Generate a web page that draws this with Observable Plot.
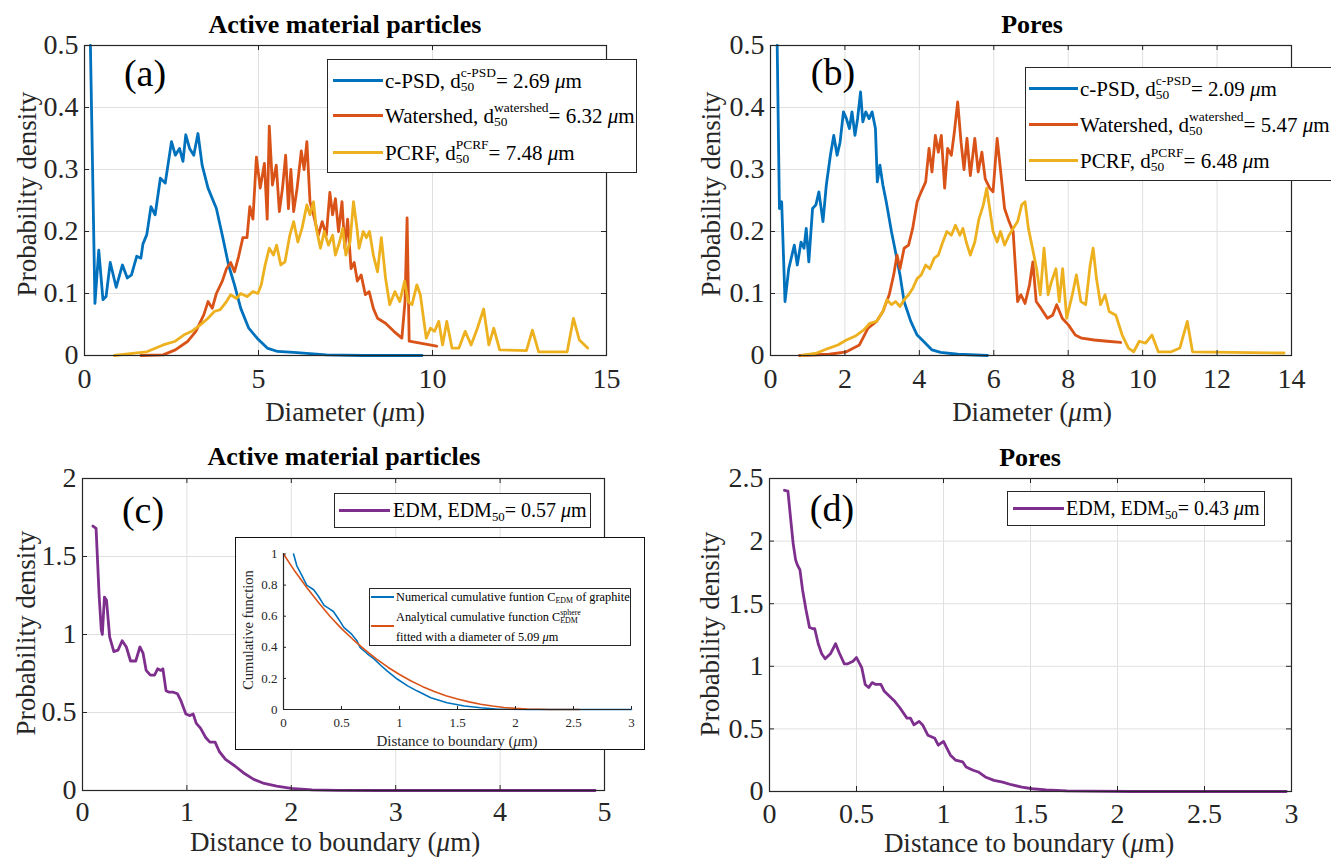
<!DOCTYPE html>
<html>
<head>
<meta charset="utf-8">
<script src="https://cdn.jsdelivr.net/npm/d3@7"></script>
<script src="https://cdn.jsdelivr.net/npm/@observablehq/plot@0.6"></script>
<style>
  body { margin: 0; background: #fff; }
  #fig { position: relative; width: 1331px; height: 859px; overflow: hidden;
         font-family: "Liberation Serif", "Times New Roman", Times, "Nimbus Roman", "DejaVu Serif", serif; color: #000; }
  #fig svg { position: absolute; overflow: visible; }
  .abs { position: absolute; white-space: nowrap; line-height: 1; }
  .legend { position: absolute; box-sizing: border-box; border: 1.3px solid #262626; background: #fff; }
  .ss { display: inline-block; vertical-align: -0.26em; font-size: 0.64em; line-height: 1.02; text-align: left; }
  .ss span { display: block; }
  .sb { font-size: 0.64em; position: relative; top: 0.3em; }
</style>
</head>
<body>
<div id="fig"></div>
<script>
// ---- text ----
const titles = ["Active material particles", "Pores", "Active material particles", "Pores"];
const letters = ["(a)", "(b)", "(c)", "(d)"];
const xLabels = ["Diameter (<i>μ</i>m)", "Diameter (<i>μ</i>m)", "Distance to boundary (<i>μ</i>m)", "Distance to boundary (<i>μ</i>m)"];
const yLabel = "Probability density";
const methodNames = ["c-PSD", "Watershed", "PCRF"];
const methodSups = ["c-PSD", "watershed", "PCRF"];
const d50Active = ["2.69", "6.32", "7.48"];
const d50Pores = ["2.09", "5.47", "6.48"];
const edm50 = ["0.57", "0.43"];
const insetLabels = ["Numerical cumulative funtion C", "Analytical cumulative function C", "fitted with a diameter of 5.09"];

// ---- ticks ----
const aTicksX = [0, 5, 10, 15];
const bTicksX = [0, 2, 4, 6, 8, 10, 12, 14];
const abTicksY = [0, 0.1, 0.2, 0.3, 0.4, 0.5];
const cTicksX = [0, 1, 2, 3, 4, 5];
const cTicksY = [0, 0.5, 1, 1.5, 2];
const dTicksX = [0, 0.5, 1, 1.5, 2, 2.5, 3];
const dTicksY = [0, 0.5, 1, 1.5, 2, 2.5];
const insetTicksX = [0, 0.5, 1, 1.5, 2, 2.5, 3];
const insetTicksY = [0, 0.2, 0.4, 0.6, 0.8, 1];

// ---- (a) active material particles: diameter [µm], probability density ----
const aCpsd = [[0.17,0.5],[0.30,0.084],[0.41,0.17],[0.53,0.09],[0.62,0.095],[0.74,0.15],[0.91,0.11],[1.09,0.146],[1.23,0.125],[1.35,0.13],[1.50,0.16],[1.62,0.157],[1.68,0.18],[1.79,0.195],[1.91,0.24],[2.03,0.227],[2.18,0.286],[2.32,0.278],[2.50,0.345],[2.61,0.323],[2.73,0.334],[2.83,0.313],[2.91,0.356],[3.02,0.334],[3.14,0.323],[3.26,0.358],[3.38,0.307],[3.55,0.27],[3.79,0.237],[3.96,0.194],[4.14,0.146],[4.31,0.114],[4.49,0.076],[4.72,0.044],[4.96,0.028],[5.25,0.012],[5.55,0.0065],[6.01,0.005],[6.95,0.001],[8.0,0],[9.7,0]];
const aWatershed = [[1.62,0],[2.26,0.001],[2.61,0.009],[2.97,0.023],[3.2,0.039],[3.43,0.066],[3.55,0.087],[3.67,0.076],[3.79,0.10],[3.96,0.12],[4.08,0.14],[4.20,0.15],[4.31,0.135],[4.43,0.16],[4.55,0.19],[4.67,0.19],[4.75,0.24],[4.84,0.22],[4.94,0.32],[5.05,0.27],[5.17,0.31],[5.25,0.22],[5.31,0.37],[5.40,0.275],[5.51,0.307],[5.60,0.232],[5.69,0.27],[5.78,0.323],[5.86,0.237],[5.93,0.30],[6.01,0.232],[6.11,0.27],[6.23,0.33],[6.31,0.30],[6.39,0.345],[6.48,0.248],[6.58,0.227],[6.72,0.194],[6.83,0.216],[6.95,0.194],[7.05,0.263],[7.13,0.227],[7.21,0.253],[7.30,0.2],[7.4,0.248],[7.48,0.173],[7.56,0.22],[7.66,0.14],[7.75,0.15],[7.84,0.12],[7.95,0.13],[8.07,0.098],[8.18,0.103],[8.30,0.076],[8.42,0.06],[8.65,0.052],[8.89,0.039],[9.12,0.028],[9.21,0.087],[9.27,0.222],[9.33,0.023],[10.12,0.015]];
const aPcrf = [[0.86,0],[1.44,0.004],[1.79,0.006],[2.26,0.017],[2.61,0.023],[2.85,0.033],[3.08,0.039],[3.32,0.049],[3.55,0.06],[3.73,0.071],[3.9,0.074],[4.08,0.087],[4.2,0.098],[4.37,0.092],[4.49,0.10],[4.67,0.095],[4.84,0.103],[4.98,0.10],[5.08,0.114],[5.19,0.146],[5.31,0.173],[5.43,0.162],[5.52,0.178],[5.64,0.146],[5.76,0.151],[5.90,0.194],[6.01,0.216],[6.13,0.183],[6.25,0.205],[6.39,0.243],[6.48,0.227],[6.58,0.248],[6.66,0.205],[6.78,0.173],[6.89,0.2],[7.01,0.178],[7.13,0.194],[7.21,0.162],[7.33,0.183],[7.42,0.205],[7.51,0.162],[7.63,0.183],[7.73,0.248],[7.83,0.205],[7.89,0.173],[8.01,0.2],[8.1,0.19],[8.19,0.2],[8.3,0.162],[8.42,0.135],[8.53,0.19],[8.65,0.125],[8.77,0.082],[8.92,0.103],[9.06,0.087],[9.2,0.12],[9.3,0.087],[9.41,0.082],[9.55,0.114],[9.65,0.098],[9.82,0.028],[9.94,0.044],[10.06,0.039],[10.18,0.055],[10.29,0.017],[10.41,0.055],[10.56,0.012],[10.76,0.012],[10.94,0.039],[11.11,0.017],[11.29,0.044],[11.47,0.075],[11.62,0.017],[11.76,0.044],[11.93,0.009],[12.7,0.008],[12.87,0.041],[13.05,0.006],[13.87,0.006],[14.05,0.06],[14.22,0.025],[14.46,0.012]];

// ---- (b) pores: diameter [µm], probability density ----
const bCpsd = [[0.18,0.5],[0.24,0.237],[0.30,0.248],[0.39,0.087],[0.49,0.14],[0.64,0.178],[0.72,0.146],[0.82,0.183],[0.90,0.173],[0.96,0.205],[1.03,0.151],[1.13,0.237],[1.22,0.243],[1.30,0.264],[1.41,0.216],[1.50,0.275],[1.61,0.323],[1.70,0.355],[1.79,0.323],[1.87,0.344],[1.96,0.393],[2.04,0.382],[2.12,0.366],[2.19,0.393],[2.27,0.355],[2.34,0.382],[2.42,0.425],[2.48,0.377],[2.56,0.393],[2.65,0.382],[2.73,0.393],[2.82,0.366],[2.87,0.28],[2.94,0.307],[3.02,0.275],[3.11,0.248],[3.25,0.2],[3.36,0.167],[3.48,0.13],[3.59,0.087],[3.77,0.055],[3.94,0.033],[4.11,0.023],[4.34,0.009],[4.57,0.005],[5.03,0.002],[5.83,0]];
const bWatershed = [[0.78,0],[1.58,0.002],[2.04,0.006],[2.39,0.017],[2.62,0.044],[2.85,0.055],[3.02,0.071],[3.19,0.098],[3.31,0.13],[3.40,0.162],[3.48,0.14],[3.59,0.173],[3.71,0.178],[3.82,0.205],[3.94,0.248],[4.05,0.264],[4.17,0.28],[4.26,0.334],[4.34,0.296],[4.43,0.355],[4.51,0.328],[4.59,0.355],[4.68,0.27],[4.76,0.334],[4.86,0.323],[4.94,0.36],[5.03,0.409],[5.12,0.344],[5.20,0.30],[5.28,0.35],[5.37,0.29],[5.49,0.35],[5.58,0.296],[5.68,0.328],[5.77,0.285],[5.89,0.27],[5.98,0.264],[6.09,0.35],[6.18,0.30],[6.29,0.237],[6.41,0.216],[6.52,0.2],[6.64,0.087],[6.73,0.098],[6.84,0.084],[6.96,0.114],[7.05,0.151],[7.14,0.087],[7.27,0.076],[7.44,0.06],[7.58,0.065],[7.69,0.082],[7.84,0.06],[8.01,0.049],[8.19,0.033],[8.36,0.028],[8.70,0.025],[9.05,0.023],[9.41,0.021]];
const bPcrf = [[0.84,0],[1.24,0.004],[1.58,0.012],[1.81,0.017],[2.04,0.025],[2.27,0.031],[2.50,0.041],[2.67,0.052],[2.85,0.055],[3.02,0.071],[3.13,0.09],[3.25,0.082],[3.36,0.087],[3.48,0.079],[3.59,0.09],[3.71,0.098],[3.82,0.108],[3.94,0.124],[4.05,0.13],[4.17,0.146],[4.28,0.14],[4.40,0.157],[4.51,0.162],[4.63,0.183],[4.74,0.2],[4.86,0.194],[4.97,0.21],[5.09,0.194],[5.17,0.205],[5.26,0.183],[5.37,0.162],[5.49,0.183],[5.60,0.22],[5.72,0.243],[5.81,0.27],[5.89,0.237],[5.98,0.2],[6.09,0.183],[6.18,0.2],[6.29,0.178],[6.41,0.194],[6.52,0.205],[6.64,0.216],[6.75,0.243],[6.84,0.248],[6.93,0.205],[7.04,0.173],[7.15,0.14],[7.25,0.098],[7.35,0.173],[7.46,0.098],[7.55,0.119],[7.67,0.14],[7.76,0.087],[7.85,0.14],[7.96,0.06],[8.11,0.098],[8.22,0.13],[8.34,0.087],[8.47,0.082],[8.59,0.146],[8.67,0.173],[8.76,0.124],[8.87,0.082],[8.99,0.098],[9.1,0.071],[9.28,0.065],[9.45,0.033],[9.62,0.012],[9.76,0.006],[9.91,0.023],[10.08,0.02],[10.25,0.033],[10.42,0.006],[10.77,0.006],[11.0,0.012],[11.2,0.055],[11.34,0.006],[13.8,0.004]];

// ---- (c) active material particles: distance to boundary [µm] ----
const cEdm = [[0.10,1.695],[0.13,1.68],[0.16,1.24],[0.18,1.03],[0.19,1.0],[0.21,1.24],[0.23,1.22],[0.26,0.985],[0.30,0.89],[0.34,0.90],[0.38,0.96],[0.42,0.92],[0.46,0.83],[0.51,0.83],[0.55,0.92],[0.58,0.88],[0.61,0.77],[0.65,0.74],[0.69,0.74],[0.72,0.78],[0.75,0.77],[0.77,0.78],[0.80,0.64],[0.83,0.63],[0.87,0.63],[0.91,0.62],[0.94,0.58],[0.99,0.49],[1.03,0.48],[1.06,0.49],[1.09,0.43],[1.13,0.40],[1.18,0.34],[1.22,0.31],[1.27,0.31],[1.31,0.25],[1.37,0.20],[1.46,0.157],[1.54,0.114],[1.64,0.071],[1.74,0.045],[1.86,0.028],[2.0,0.013],[2.2,0.004],[2.45,0.001],[2.85,0],[4.91,0]];
// inset: cumulative functions
const insetNumerical = [[0.087,1.0],[0.115,0.924],[0.16,0.86],[0.2,0.80],[0.26,0.77],[0.30,0.73],[0.35,0.67],[0.39,0.65],[0.43,0.63],[0.48,0.576],[0.52,0.528],[0.58,0.49],[0.63,0.446],[0.66,0.40],[0.72,0.36],[0.78,0.326],[0.84,0.283],[0.89,0.25],[0.98,0.196],[1.07,0.152],[1.15,0.12],[1.27,0.076],[1.41,0.043],[1.56,0.022],[1.70,0.011],[1.85,0.002],[2.13,0],[3.0,0]];
const insetAnalytical = [[0,1.0],[0.1,0.887],[0.2,0.785],[0.3,0.69],[0.4,0.60],[0.5,0.52],[0.6,0.45],[0.7,0.385],[0.8,0.325],[0.9,0.272],[1.0,0.225],[1.1,0.183],[1.2,0.147],[1.3,0.116],[1.4,0.089],[1.5,0.067],[1.6,0.049],[1.7,0.034],[1.8,0.022],[1.9,0.013],[2.0,0.007],[2.1,0.003],[2.2,0.0012],[2.3,0.0003],[2.4,0],[2.55,0]];

// ---- (d) pores: distance to boundary [µm] ----
const dEdm = [[0.086,2.406],[0.106,2.40],[0.12,2.20],[0.136,1.98],[0.15,1.85],[0.16,1.81],[0.175,1.77],[0.19,1.61],[0.21,1.45],[0.23,1.31],[0.25,1.30],[0.26,1.30],[0.28,1.18],[0.30,1.10],[0.32,1.06],[0.35,1.10],[0.38,1.18],[0.40,1.11],[0.43,1.02],[0.45,1.02],[0.48,1.04],[0.50,1.07],[0.53,0.99],[0.55,0.855],[0.57,0.83],[0.59,0.87],[0.61,0.855],[0.64,0.855],[0.66,0.80],[0.70,0.747],[0.72,0.72],[0.75,0.667],[0.79,0.586],[0.81,0.586],[0.83,0.532],[0.86,0.56],[0.88,0.532],[0.91,0.45],[0.95,0.425],[0.97,0.37],[1.0,0.40],[1.02,0.344],[1.04,0.29],[1.07,0.25],[1.11,0.237],[1.13,0.196],[1.17,0.17],[1.20,0.156],[1.24,0.116],[1.29,0.089],[1.34,0.075],[1.39,0.054],[1.45,0.035],[1.51,0.022],[1.59,0.013],[1.71,0.005],[1.83,0.003],[2.08,0],[2.97,0]];

// ---- colours ----
const C_BLUE = "#0072BD", C_ORANGE = "#D95319", C_YELLOW = "#EDB120", C_PURPLE = "#7E2F8E";
const AXIS = "#262626", GRID = "#e0e0e0";
const SERIF = '"Liberation Serif", "Times New Roman", Times, "Nimbus Roman", "DejaVu Serif", serif';
const fmt = d => `${d}`;

const fig = document.getElementById("fig");

// One axes box: [left, top, width, height] of the svg, frame = [x0, y0, x1, y1] in page pixels
function axes(o) {
  const [L, T, W, H] = o.box;
  const [fx0, fy0, fx1, fy1] = o.frame;
  const pw = fx1 - fx0, ph = fy1 - fy0;
  const tl = o.tickLen ?? 5;
  const marks = [];
  if (o.grid !== false) {
    marks.push(Plot.gridX(o.xTicks, {stroke: GRID, strokeOpacity: 1, strokeWidth: 1}));
    marks.push(Plot.gridY(o.yTicks, {stroke: GRID, strokeOpacity: 1, strokeWidth: 1}));
  }
  for (const s of o.lines) {
    marks.push(Plot.line(s.data, {x: d => d[0], y: d => d[1], stroke: s.color,
      strokeWidth: o.lw ?? 2.8, strokeLinejoin: "round", strokeLinecap: "round"}));
  }
  // inward tick marks
  marks.push(Plot.tickX(o.xTicks, {x: d => d, stroke: AXIS, insetTop: ph - tl}));
  marks.push(Plot.tickY(o.yTicks, {y: d => d, stroke: AXIS, insetRight: pw - tl}));
  if (o.box4 !== false) {
    marks.push(Plot.tickX(o.xTicks, {x: d => d, stroke: AXIS, insetBottom: ph - tl}));
    marks.push(Plot.tickY(o.yTicks, {y: d => d, stroke: AXIS, insetLeft: pw - tl}));
    marks.push(Plot.frame({stroke: AXIS, strokeWidth: 1.2}));
  } else {
    marks.push(Plot.ruleX([o.xDomain[0]], {stroke: AXIS, strokeWidth: 1.2}));
    marks.push(Plot.ruleY([o.yDomain[0]], {stroke: AXIS, strokeWidth: 1.2}));
  }
  marks.push(Plot.axisX(o.xTicks, {tickSize: 0, tickPadding: o.xPad, fontSize: o.fs, fill: AXIS, label: null, tickFormat: fmt}));
  marks.push(Plot.axisY(o.yTicks, {tickSize: 0, tickPadding: o.yPad, fontSize: o.fs, fill: AXIS, label: null, tickFormat: fmt}));
  const svg = Plot.plot({
    width: W, height: H,
    marginLeft: fx0 - L, marginRight: L + W - fx1,
    marginTop: fy0 - T, marginBottom: T + H - fy1,
    x: {domain: o.xDomain}, y: {domain: o.yDomain},
    style: {fontFamily: SERIF, fontSize: o.fs + "px", background: "transparent", overflow: "visible", color: AXIS},
    marks
  });
  svg.style.left = L + "px";
  svg.style.top = T + "px";
  fig.appendChild(svg);
}

function text(html, cx, cy, css = {}, rotate = false) {
  const d = document.createElement("div");
  d.className = "abs";
  d.innerHTML = html;
  Object.assign(d.style, {left: cx + "px", top: cy + "px",
    transform: "translate(-50%,-50%)" + (rotate ? " rotate(-90deg)" : "")}, css);
  fig.appendChild(d);
  return d;
}

function legend(box, rows, fs, lw = 3) {
  const b = document.createElement("div");
  b.className = "legend";
  Object.assign(b.style, {left: box[0] + "px", top: box[1] + "px",
    width: (box[2] - box[0]) + "px", height: (box[3] - box[1]) + "px"});
  fig.appendChild(b);
  for (const r of rows) {
    if (r.color) {
      const ln = document.createElement("div");
      Object.assign(ln.style, {position: "absolute", left: r.x0 + "px", top: (r.ly ?? r.y) - lw / 2 + "px",
        width: (r.x1 - r.x0) + "px", height: lw + "px", background: r.color});
      fig.appendChild(ln);
    }
    const t = document.createElement("div");
    t.className = "abs";
    t.innerHTML = r.html;
    Object.assign(t.style, {left: r.tx + "px", top: r.y + "px", transform: "translateY(-50%)", fontSize: fs + "px"});
    fig.appendChild(t);
  }
}

const stacked = (sup, sub) => `<span class="ss"><span>${sup}</span><span>${sub}</span></span>`;
const mu = "<i>μ</i>m";

// (a)
axes({box: [0, 0, 660, 430], frame: [84, 45, 606, 355], xDomain: [0, 15], yDomain: [0, 0.5],
  xTicks: aTicksX, yTicks: abTicksY, fs: 28, xPad: 13, yPad: 6,
  lines: [{data: aCpsd, color: C_BLUE}, {data: aWatershed, color: C_ORANGE}, {data: aPcrf, color: C_YELLOW}]});
// (b)
axes({box: [660, 0, 671, 430], frame: [770, 45, 1291, 355], xDomain: [0, 14], yDomain: [0, 0.5],
  xTicks: bTicksX, yTicks: abTicksY, fs: 28, xPad: 13, yPad: 6,
  lines: [{data: bCpsd, color: C_BLUE}, {data: bWatershed, color: C_ORANGE}, {data: bPcrf, color: C_YELLOW}]});
// (c)
axes({box: [0, 430, 660, 429], frame: [82, 478, 604, 790], xDomain: [0, 5], yDomain: [0, 2],
  xTicks: cTicksX, yTicks: cTicksY, fs: 28, xPad: 11, yPad: 6,
  lines: [{data: cEdm, color: C_PURPLE}]});
// (d)
axes({box: [660, 430, 671, 429], frame: [769, 478, 1291, 791], xDomain: [0, 3], yDomain: [0, 2.5],
  xTicks: dTicksX, yTicks: dTicksY, fs: 28, xPad: 12, yPad: 6,
  lines: [{data: dEdm, color: C_PURPLE}]});

// inset of (c)
const ib = document.createElement("div");
Object.assign(ib.style, {position: "absolute", left: "235px", top: "537px", width: "410px", height: "213px",
  boxSizing: "border-box", border: "1.6px solid #111", background: "#fff"});
fig.appendChild(ib);
axes({box: [235, 537, 410, 213], frame: [283, 553.5, 631, 709], xDomain: [0, 3], yDomain: [0, 1],
  xTicks: insetTicksX, yTicks: insetTicksY, fs: 13, xPad: 8, yPad: 6, grid: false, box4: false, lw: 1.6, tickLen: 3,
  lines: [{data: insetNumerical, color: C_BLUE}, {data: insetAnalytical, color: C_ORANGE}]});
text("Cumulative function", 248, 630, {fontSize: "14.5px", color: AXIS}, true);
text(xLabels[2], 457, 741, {fontSize: "15px", color: AXIS});
legend([369, 588, 631, 646], [
  {color: C_BLUE, x0: 371, x1: 394, y: 597, tx: 396, html: `${insetLabels[0]}<span class="sb">EDM</span> of graphite`},
  {color: C_ORANGE, x0: 371, x1: 394, y: 617, ly: 626, tx: 396, html: `${insetLabels[1]}${stacked("sphere", "EDM")}`},
  {tx: 396, y: 637, html: `${insetLabels[2]} ${mu}`}
], 12.3, 1.6);

// legends of the main panels
legend([327, 59, 637, 173], methodNames.map((n, i) => ({
  color: [C_BLUE, C_ORANGE, C_YELLOW][i], x0: 333, x1: 383, y: [80, 115, 152][i], tx: 385,
  html: `${n}, d${stacked(methodSups[i], "50")}= ${d50Active[i]} ${mu}`})), 21);
legend([1025, 67, 1345, 181], methodNames.map((n, i) => ({
  color: [C_BLUE, C_ORANGE, C_YELLOW][i], x0: 1029, x1: 1078, y: [88, 124, 160][i], tx: 1080,
  html: `${n}, d${stacked(methodSups[i], "50")}= ${d50Pores[i]} ${mu}`})), 21);
legend([334, 493, 591, 528], [{color: C_PURPLE, x0: 339, x1: 390, y: 510, tx: 393,
  html: `EDM, EDM<span class="sb">50</span>= ${edm50[0]} ${mu}`}], 20);
legend([1007, 491, 1265, 526], [{color: C_PURPLE, x0: 1013, x1: 1064, y: 508, tx: 1066,
  html: `EDM, EDM<span class="sb">50</span>= ${edm50[1]} ${mu}`}], 20);

// titles, panel letters, axis labels
const titlePos = [[345, 25], [1032, 25], [344, 457], [1030, 458]];
const letterPos = [[145, 73], [833, 72], [143, 510], [832, 508]];
const xLabelPos = [[345, 412], [1032, 412], [335, 842], [1029, 843]];
const yLabelPos = [[27, 194], [711, 194], [26, 633], [710, 634]];
titles.forEach((t, i) => text(t, ...titlePos[i], {fontSize: "26px", fontWeight: "bold"}));
letters.forEach((t, i) => text(t, ...letterPos[i], {fontSize: "38px"}));
xLabels.forEach((t, i) => text(t, ...xLabelPos[i], {fontSize: "27px", color: AXIS}));
yLabelPos.forEach((p, i) => text(yLabel, ...p, {fontSize: "27px", color: AXIS}, true));
</script>
</body>
</html>
